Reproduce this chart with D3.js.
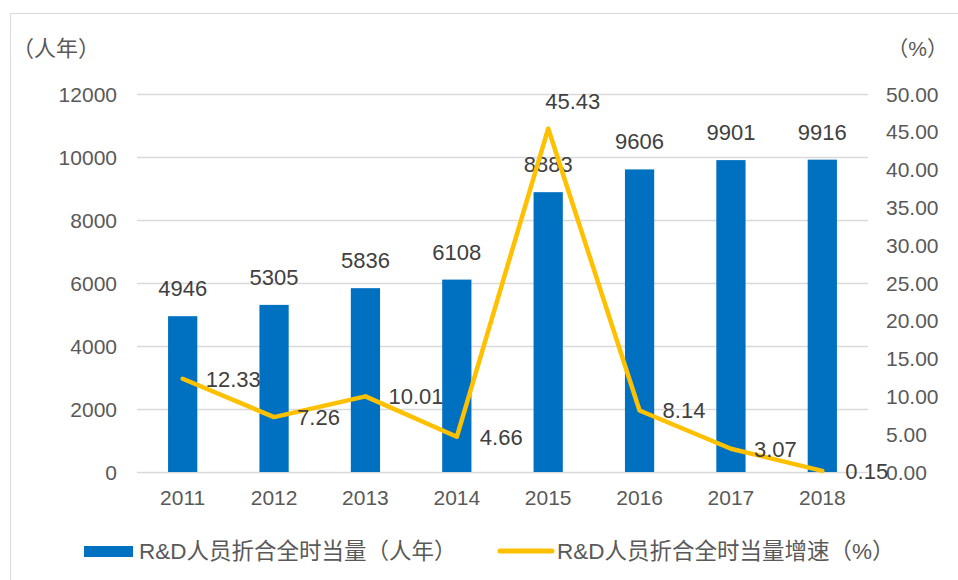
<!DOCTYPE html>
<html>
<head>
<meta charset="utf-8">
<script src="https://cdn.jsdelivr.net/npm/d3@7"></script>
<style>
body { margin: 0; background: #fff; }
text { font-family: "Liberation Sans", "Noto Sans CJK SC", sans-serif; }
</style>
</head>
<body>
<svg id="chart"></svg>
<script>
var years = ["2011", "2012", "2013", "2014", "2015", "2016", "2017", "2018"];
var staff = [4946, 5305, 5836, 6108, 8883, 9606, 9901, 9916];
var growth = [12.33, 7.26, 10.01, 4.66, 45.43, 8.14, 3.07, 0.15];
var leftTicks = [0, 2000, 4000, 6000, 8000, 10000, 12000];
var rightTicks = [0, 5, 10, 15, 20, 25, 30, 35, 40, 45, 50];
var leftTitle = "（人年）";
var rightTitle = "（%）";
var legendNames = ["R&D人员折合全时当量（人年）", "R&D人员折合全时当量增速（%）"];

var screen = {width: 958, height: 580};
var plot = {left: 137, right: 868, top: 94, bottom: 472};

var svg = d3.select("#chart")
    .attr("width", screen.width)
    .attr("height", screen.height);

// outer frame
svg.append("rect")
    .attr("x", 10.5).attr("y", 13.5)
    .attr("width", 1000).attr("height", 700)
    .attr("fill", "none")
    .attr("stroke", "#d9d9d9");

var xScale = d3.scaleBand().domain(years)
    .range([plot.left, plot.right])
    .paddingInner(0.68).paddingOuter(0.34);
var yScale = d3.scaleLinear().domain([0, 12000]).range([plot.bottom, plot.top]);
var y2Scale = d3.scaleLinear().domain([0, 50]).range([plot.bottom, plot.top]);
var cx = function(d) { return xScale(d) + xScale.bandwidth() / 2; };

// gridlines
svg.append("g").selectAll("line")
    .data(leftTicks)
    .enter()
    .append("line")
    .attr("x1", plot.left).attr("x2", plot.right)
    .attr("y1", function(d) { return Math.round(yScale(d)) + 0.5; })
    .attr("y2", function(d) { return Math.round(yScale(d)) + 0.5; })
    .attr("stroke", "#d9d9d9")
    .attr("stroke-width", 1.3);

// left axis labels
svg.append("g").selectAll("text")
    .data(leftTicks)
    .enter()
    .append("text")
    .attr("x", 117)
    .attr("y", function(d) { return yScale(d); })
    .attr("dy", "0.36em")
    .attr("text-anchor", "end")
    .attr("font-size", 21)
    .attr("fill", "#595959")
    .text(function(d) { return d; });

// right axis labels
svg.append("g").selectAll("text")
    .data(rightTicks)
    .enter()
    .append("text")
    .attr("x", 886)
    .attr("y", function(d) { return y2Scale(d); })
    .attr("dy", "0.36em")
    .attr("font-size", 21)
    .attr("fill", "#595959")
    .text(function(d) { return d.toFixed(2); });

// x labels
svg.append("g").selectAll("text")
    .data(years)
    .enter()
    .append("text")
    .attr("x", cx)
    .attr("y", 505)
    .attr("text-anchor", "middle")
    .attr("font-size", 21)
    .attr("fill", "#595959")
    .text(function(d) { return d; });

// axis titles
svg.append("text")
    .attr("x", 12).attr("y", 56)
    .attr("font-size", 22)
    .attr("fill", "#595959")
    .text(leftTitle);
svg.append("text")
    .attr("x", 948).attr("y", 56)
    .attr("text-anchor", "end")
    .attr("font-size", 21)
    .attr("fill", "#595959")
    .text(rightTitle);

// bars
svg.append("g").selectAll("rect")
    .data(staff)
    .enter()
    .append("rect")
    .attr("x", function(d, i) { return xScale(years[i]); })
    .attr("y", function(d) { return yScale(d); })
    .attr("width", xScale.bandwidth())
    .attr("height", function(d) { return plot.bottom - yScale(d); })
    .attr("fill", "#0070c0");

// bar labels
svg.append("g").selectAll("text")
    .data(staff)
    .enter()
    .append("text")
    .attr("x", function(d, i) { return cx(years[i]); })
    .attr("y", function(d) { return yScale(d) - 20; })
    .attr("text-anchor", "middle")
    .attr("font-size", 22)
    .attr("fill", "#404040")
    .text(function(d) { return d; });

// growth line
var line = d3.line()
    .x(function(d, i) { return cx(years[i]); })
    .y(function(d) { return y2Scale(d); });

svg.append("path")
    .datum(growth)
    .attr("d", line)
    .attr("fill", "none")
    .attr("stroke", "#ffc000")
    .attr("stroke-width", 4.5)
    .attr("stroke-linejoin", "round")
    .attr("stroke-linecap", "round");

// line labels, to the right of each point (peak one sits above)
svg.append("g").selectAll("text")
    .data(growth)
    .enter()
    .append("text")
    .attr("x", function(d, i) { return cx(years[i]) + (i == 4 ? -3 : 23); })
    .attr("y", function(d, i) { return y2Scale(d) + (i == 4 ? -27 : 0); })
    .attr("dy", "0.36em")
    .attr("font-size", 22)
    .attr("fill", "#404040")
    .text(function(d) { return d.toFixed(2); });

// legend
var legend = svg.append("g");
legend.append("rect")
    .attr("x", 84).attr("y", 546)
    .attr("width", 49).attr("height", 11)
    .attr("fill", "#0070c0");
legend.append("text")
    .attr("x", 139).attr("y", 551)
    .attr("dy", "0.36em")
    .attr("font-size", 22.5)
    .attr("fill", "#595959")
    .text(legendNames[0]);
legend.append("line")
    .attr("x1", 500).attr("x2", 552)
    .attr("y1", 551).attr("y2", 551)
    .attr("stroke", "#ffc000")
    .attr("stroke-width", 5)
    .attr("stroke-linecap", "round");
legend.append("text")
    .attr("x", 557).attr("y", 551)
    .attr("dy", "0.36em")
    .attr("font-size", 22.5)
    .attr("fill", "#595959")
    .text(legendNames[1]);
</script>
</body>
</html>
